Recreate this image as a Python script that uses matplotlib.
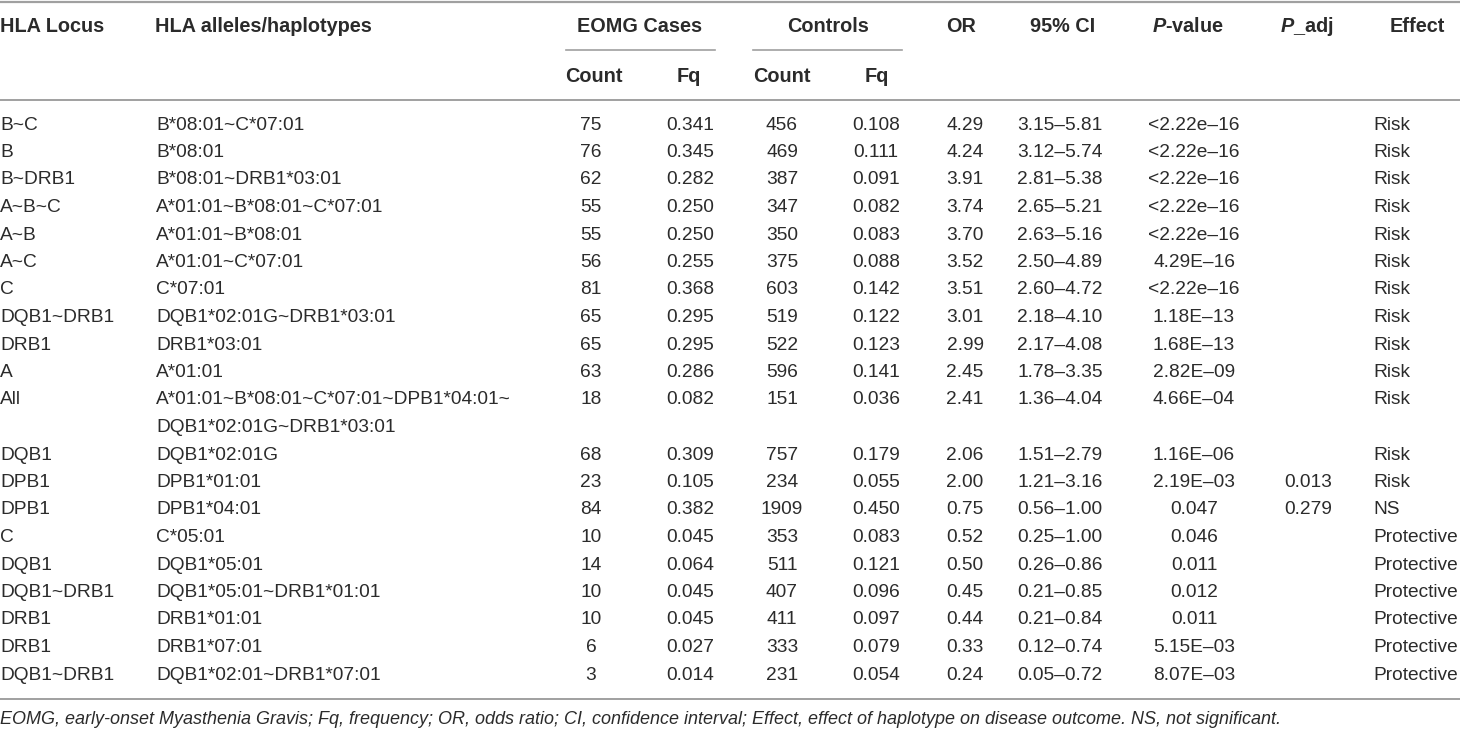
import matplotlib.pyplot as plt
from matplotlib import font_manager

# шрифт: узкий гротеск, если есть
names = {f.name for f in font_manager.fontManager.ttflist}
FONT = 'Liberation Sans Narrow' if 'Liberation Sans Narrow' in names else 'Liberation Sans'
plt.rcParams['font.family'] = [FONT, 'DejaVu Sans']
plt.rcParams['mathtext.fontset'] = 'custom'
plt.rcParams['mathtext.it'] = FONT + ':italic:bold'
plt.rcParams['mathtext.rm'] = FONT + ':bold'

loci = ['B~C', 'B', 'B~DRB1', 'A~B~C', 'A~B', 'A~C', 'C', 'DQB1~DRB1', 'DRB1', 'A', 'All',
        'DQB1', 'DPB1', 'DPB1', 'C', 'DQB1', 'DQB1~DRB1', 'DRB1', 'DRB1', 'DQB1~DRB1']
alleles = ['B*08:01~C*07:01', 'B*08:01', 'B*08:01~DRB1*03:01', 'A*01:01~B*08:01~C*07:01',
           'A*01:01~B*08:01', 'A*01:01~C*07:01', 'C*07:01', 'DQB1*02:01G~DRB1*03:01',
           'DRB1*03:01', 'A*01:01', 'A*01:01~B*08:01~C*07:01~DPB1*04:01~\nDQB1*02:01G~DRB1*03:01',
           'DQB1*02:01G', 'DPB1*01:01', 'DPB1*04:01', 'C*05:01', 'DQB1*05:01',
           'DQB1*05:01~DRB1*01:01', 'DRB1*01:01', 'DRB1*07:01', 'DQB1*02:01~DRB1*07:01']
eomg_count = [75, 76, 62, 55, 55, 56, 81, 65, 65, 63, 18, 68, 23, 84, 10, 14, 10, 10, 6, 3]
eomg_fq = ['0.341', '0.345', '0.282', '0.250', '0.250', '0.255', '0.368', '0.295', '0.295', '0.286',
           '0.082', '0.309', '0.105', '0.382', '0.045', '0.064', '0.045', '0.045', '0.027', '0.014']
ctrl_count = [456, 469, 387, 347, 350, 375, 603, 519, 522, 596, 151, 757, 234, 1909, 353, 511, 407, 411, 333, 231]
ctrl_fq = ['0.108', '0.111', '0.091', '0.082', '0.083', '0.088', '0.142', '0.122', '0.123', '0.141',
           '0.036', '0.179', '0.055', '0.450', '0.083', '0.121', '0.096', '0.097', '0.079', '0.054']
odds = ['4.29', '4.24', '3.91', '3.74', '3.70', '3.52', '3.51', '3.01', '2.99', '2.45',
        '2.41', '2.06', '2.00', '0.75', '0.52', '0.50', '0.45', '0.44', '0.33', '0.24']
ci = ['3.15–5.81', '3.12–5.74', '2.81–5.38', '2.65–5.21', '2.63–5.16', '2.50–4.89', '2.60–4.72',
      '2.18–4.10', '2.17–4.08', '1.78–3.35', '1.36–4.04', '1.51–2.79', '1.21–3.16', '0.56–1.00',
      '0.25–1.00', '0.26–0.86', '0.21–0.85', '0.21–0.84', '0.12–0.74', '0.05–0.72']
pval = ['<2.22e–16', '<2.22e–16', '<2.22e–16', '<2.22e–16', '<2.22e–16', '4.29E–16', '<2.22e–16',
        '1.18E–13', '1.68E–13', '2.82E–09', '4.66E–04', '1.16E–06', '2.19E–03', '0.047', '0.046',
        '0.011', '0.012', '0.011', '5.15E–03', '8.07E–03']
padj = ['', '', '', '', '', '', '', '', '', '', '', '', '0.013', '0.279', '', '', '', '', '', '']
effect = ['Risk'] * 13 + ['NS'] + ['Protective'] * 6

footnote = ('EOMG, early-onset Myasthenia Gravis; Fq, frequency; OR, odds ratio; CI, confidence interval; '
            'Effect, effect of haplotype on disease outcome. NS, not significant.')

fig = plt.figure(figsize=(14.6, 7.3), dpi=100)
ax = fig.add_axes([0, 0, 1, 1])
ax.set_xlim(0, 1460)
ax.set_ylim(730, 0)
ax.axis('off')

TXT = '#2b2b2b'
LINE = '#a0a0a0'
FS = 13.8
HFS = 14.3

# линии таблицы
ax.plot([0, 1460], [1.5, 1.5], color=LINE, lw=1.6)
ax.plot([0, 1460], [100, 100], color=LINE, lw=1.4)
ax.plot([0, 1460], [698.5, 698.5], color=LINE, lw=1.4)
ax.plot([566, 715], [50, 50], color=LINE, lw=1.2)
ax.plot([753, 902], [50, 50], color=LINE, lw=1.2)

hdr = dict(fontsize=HFS, fontweight='bold', color=TXT, va='center')
ax.text(0, 27, 'HLA Locus', ha='left', **hdr)
ax.text(155, 27, 'HLA alleles/haplotypes', ha='left', **hdr)
ax.text(640, 27, 'EOMG Cases', ha='center', **hdr)
ax.text(828, 27, 'Controls', ha='center', **hdr)
ax.text(961, 27, 'OR', ha='center', **hdr)
ax.text(1063, 27, '95% CI', ha='center', **hdr)
ax.text(1188, 27, r'$\mathit{P}$-value', ha='center', **hdr)
ax.text(1307, 27, r'$\mathit{P}$_adj', ha='center', **hdr)
ax.text(1417, 27, 'Effect', ha='center', **hdr)
ax.text(594, 76, 'Count', ha='center', **hdr)
ax.text(689, 76, 'Fq', ha='center', **hdr)
ax.text(782, 76, 'Count', ha='center', **hdr)
ax.text(877, 76, 'Fq', ha='center', **hdr)

body = dict(fontsize=FS, color=TXT, va='center')
y = 125
step = 27.5
for i in range(len(loci)):
    ax.text(0, y, loci[i], ha='left', **body)
    lines = alleles[i].split('\n')
    for k, s in enumerate(lines):
        ax.text(156, y + k * step, s, ha='left', **body)
    ax.text(591, y, str(eomg_count[i]), ha='center', **body)
    ax.text(690, y, eomg_fq[i], ha='center', **body)
    ax.text(782, y, str(ctrl_count[i]), ha='center', **body)
    ax.text(876, y, ctrl_fq[i], ha='center', **body)
    ax.text(965, y, odds[i], ha='center', **body)
    ax.text(1060, y, ci[i], ha='center', **body)
    ax.text(1194, y, pval[i], ha='center', **body)
    ax.text(1308, y, padj[i], ha='center', **body)
    ax.text(1373, y, effect[i], ha='left', **body)
    y += step * len(lines)

ax.text(0, 719, footnote, ha='left', va='center', fontsize=13.0, style='italic', color=TXT)

fig.savefig('out.png', dpi=100)
